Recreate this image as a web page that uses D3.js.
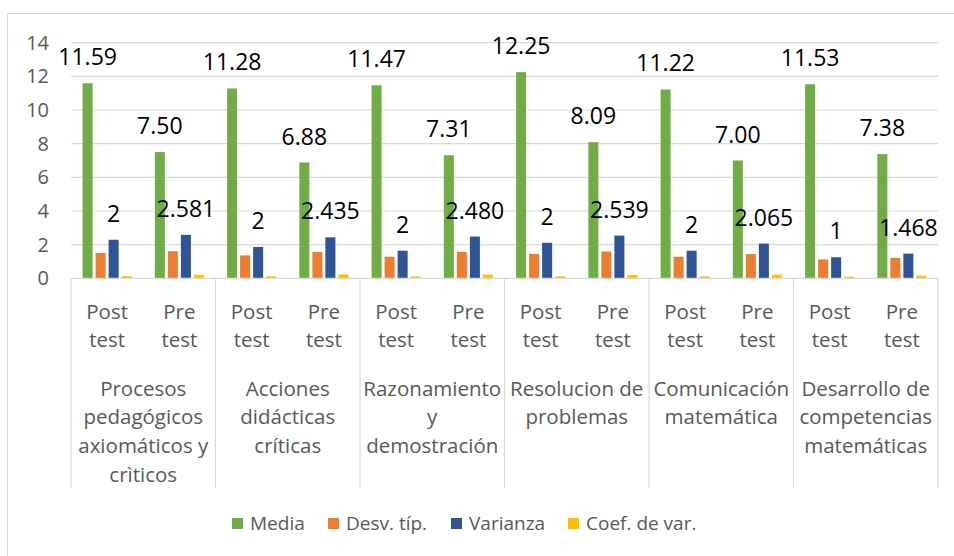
<!DOCTYPE html>
<html>
<head>
<meta charset="utf-8">
<script src="https://cdn.jsdelivr.net/npm/d3@7"></script>
<style>
  body { margin: 0; background: #fff; }
  svg text { font-family: "Open Sans", Carlito, Calibri, sans-serif; }
</style>
</head>
<body>
<div id="graph"></div>
<script>
const groups = [
  ["Procesos", "pedagógicos", "axiomáticos y", "crìticos"],
  ["Acciones", "didácticas", "críticas"],
  ["Razonamiento", "y", "demostración"],
  ["Resolucion de", "problemas"],
  ["Comunicación", "matemática"],
  ["Desarrollo de", "competencias", "matemáticas"]
];
const tests = ["Post", "Pre"];
const series = ["Media", "Desv. típ.", "Varianza", "Coef. de var."];
const colors = ["#70ad47", "#ed7d31", "#2f5597", "#ffc000"];

// one value per bar, order: group1 Post, group1 Pre, group2 Post ...
const media = [11.59, 7.50, 11.28, 6.88, 11.47, 7.31, 12.25, 8.09, 11.22, 7.00, 11.53, 7.38];
const desv = [1.51, 1.61, 1.36, 1.56, 1.28, 1.57, 1.45, 1.59, 1.28, 1.44, 1.12, 1.21];
const varianza = [2.29, 2.581, 1.86, 2.435, 1.64, 2.480, 2.11, 2.539, 1.64, 2.065, 1.25, 1.468];
const coef = [0.13, 0.21, 0.12, 0.23, 0.11, 0.22, 0.12, 0.20, 0.11, 0.21, 0.10, 0.16];
const varianzaLabels = ["2", "2.581", "2", "2.435", "2", "2.480", "2", "2.539", "2", "2.065", "1", "1.468"];
const yTicks = [0, 2, 4, 6, 8, 10, 12, 14];

const width = 954, height = 556;
const plot = { left: 71, right: 938, top: 42.7, bottom: 278.3 };
const font = "'Open Sans', Carlito, Calibri, sans-serif";

const svg = d3.select("#graph").append("svg")
  .attr("width", width)
  .attr("height", height);

// chart frame
svg.append("rect")
  .attr("x", 7.5).attr("y", 13.5)
  .attr("width", 960).attr("height", 560)
  .attr("fill", "none").attr("stroke", "#d9d9d9");

const slots = [];
groups.forEach((g, gi) => tests.forEach(t => slots.push(gi + "-" + t)));

const x0 = d3.scaleBand().domain(slots).range([plot.left, plot.right]);
const xg = d3.scaleBand().domain(d3.range(groups.length)).range([plot.left, plot.right]);
const x1 = d3.scaleBand().domain(series)
  .range([0, x0.bandwidth()])
  .paddingInner(0.23).paddingOuter(0.89);
const y = d3.scaleLinear().domain([0, 14]).range([plot.bottom, plot.top]);

// gridlines
svg.append("g").selectAll("line").data(yTicks.filter(d => d > 0)).join("line")
  .attr("x1", plot.left).attr("x2", plot.right)
  .attr("y1", d => y(d)).attr("y2", d => y(d))
  .attr("stroke", "#d9d9d9").attr("stroke-width", 1.2);

// y axis labels
const yAxis = d3.axisLeft(y).tickValues(yTicks).tickSize(0).tickPadding(0);
const ya = svg.append("g").attr("transform", "translate(49,0)").call(yAxis);
ya.select(".domain").remove();
ya.selectAll("text")
  .attr("font-size", 20).attr("fill", "#595959")
  .style("font-family", font);

// bars
const table = [media, desv, varianza, coef];
const rows = slots.map((s, i) => ({ slot: s, vals: series.map((k, si) => ({ key: k, si: si, v: table[si][i] })) }));

const slotG = svg.append("g").selectAll("g").data(rows).join("g")
  .attr("transform", d => "translate(" + x0(d.slot) + ",0)");

slotG.selectAll("rect").data(d => d.vals).join("rect")
  .attr("x", d => x1(d.key))
  .attr("width", x1.bandwidth())
  .attr("y", d => y(d.v))
  .attr("height", d => y(0) - y(d.v))
  .attr("fill", d => colors[d.si]);

// data labels: Media and Varianza
slotG.append("text")
  .attr("x", x1("Media") + x1.bandwidth() / 2)
  .attr("y", (d, i) => y(media[i]) - 18)
  .attr("text-anchor", "middle")
  .attr("font-size", 23).attr("fill", "#000")
  .text((d, i) => media[i].toFixed(2));

slotG.append("text")
  .attr("x", x1("Varianza") + x1.bandwidth() / 2)
  .attr("y", (d, i) => y(varianza[i]) - 18)
  .attr("text-anchor", "middle")
  .attr("font-size", 23).attr("fill", "#000")
  .text((d, i) => varianzaLabels[i]);

// x axis line and group separators
svg.append("line")
  .attr("x1", plot.left).attr("x2", plot.right)
  .attr("y1", plot.bottom).attr("y2", plot.bottom)
  .attr("stroke", "#d9d9d9").attr("stroke-width", 1.2);

const seps = d3.range(groups.length).map(i => xg(i)).concat([plot.right]);
svg.append("g").selectAll("line").data(seps).join("line")
  .attr("x1", d => d).attr("x2", d => d)
  .attr("y1", plot.bottom).attr("y2", 488)
  .attr("stroke", "#d9d9d9").attr("stroke-width", 1.2);

// Post / Pre labels
const sub = svg.append("g").selectAll("text").data(slots).join("text")
  .attr("text-anchor", "middle")
  .attr("font-size", 20.5).attr("fill", "#595959");
sub.append("tspan")
  .attr("x", d => x0(d) + x0.bandwidth() / 2).attr("y", 318.5)
  .text(d => d.split("-")[1]);
sub.append("tspan")
  .attr("x", d => x0(d) + x0.bandwidth() / 2).attr("y", 347)
  .text("test");

// group labels
const gl = svg.append("g").selectAll("text").data(groups).join("text")
  .attr("text-anchor", "middle")
  .attr("font-size", 20.5).attr("fill", "#595959");
gl.selectAll("tspan").data((d, i) => d.map(line => ({ line: line, gi: i }))).join("tspan")
  .attr("x", d => xg(d.gi) + xg.bandwidth() / 2)
  .attr("y", (d, j) => 395.5 + j * 28.8)
  .text(d => d.line);

// legend
const legendX = [232, 328, 451, 568];
const lg = svg.append("g").selectAll("g").data(series).join("g")
  .attr("transform", (d, i) => "translate(" + legendX[i] + ",518)");
lg.append("rect")
  .attr("width", 11).attr("height", 11)
  .attr("fill", (d, i) => colors[i]);
lg.append("text")
  .attr("x", 18).attr("y", 12)
  .attr("font-size", 19).attr("fill", "#595959")
  .text(d => d);
</script>
</body>
</html>
